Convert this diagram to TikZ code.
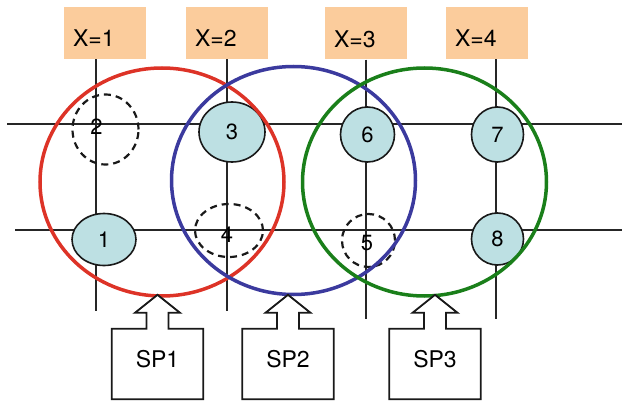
\documentclass[tikz,border=0pt]{standalone}
\usepackage{fontspec}
\setmainfont{TeX Gyre Heros}
\usetikzlibrary{shapes.geometric,calc}
\definecolor{peach}{HTML}{FBCC9C}
\definecolor{peerfill}{HTML}{BDE0E3}
\definecolor{zonered}{HTML}{DD3327}
\definecolor{zoneblue}{HTML}{3B3A9E}
\definecolor{zonegreen}{HTML}{1A7F1A}

% outline of a service box with an upward arrow on its top edge
\newcommand\calloutframe[1]{%
  \draw[callout] (#1.south west) -- (#1.north west)
    -- ($(#1.north)+(-11,0)$) -- ++(0,-16) -- ++(-11.5,0)
    -- ($(#1.north)+(0,-34)$)
    -- ($(#1.north)+(22.5,-16)$) -- ++(-11.5,0)
    -- ($(#1.north)+(11,0)$) -- (#1.north east) -- (#1.south east) -- cycle;}

\begin{document}
\begin{tikzpicture}[x=1pt,y=-1pt,
  hdr/.style={rectangle, fill=peach, inner xsep=9pt, inner ysep=0pt,
    text width=64pt, align=left, text height=40pt, text depth=12pt,
    font=\fontsize{23}{27}\selectfont},
  gridline/.style={line width=1.8pt, draw=black!85},
  peer/.style={ellipse, draw=black!90, line width=1.6pt, fill=peerfill,
    inner sep=0pt, font=\fontsize{22}{26}\selectfont},
  ghost/.style={ellipse, draw=black!90, line width=2.2pt,
    dash pattern=on 7pt off 5pt, inner sep=0pt},
  ghostlabel/.style={font=\fontsize{22}{26}\selectfont, inner sep=0pt},
  zone/.style={ellipse, line width=3.5pt, minimum width=244pt, minimum height=228pt, inner sep=0pt},
  spbox/.style={rectangle, minimum width=91pt, inner xsep=0pt, inner ysep=0pt,
    text height=38pt, text depth=32pt, font=\fontsize{23}{27}\selectfont},
  callout/.style={draw=black!90, line width=1.8pt, line join=miter, fill=white}
]
\useasboundingbox (0,0) rectangle (622,404);

% column headers
\node[hdr] (h1) at (105,33) {X=1};
\node[hdr] (h2) at (227,33) {X=2};
\node[hdr] (h3) at (366,33.5) {X=3};
\node[hdr] (h4) at (487,33) {X=4};

% grid
\coordinate (v1) at (96,311);
\coordinate (v2) at (227,311);
\coordinate (v3) at (366,319);
\coordinate (v4) at (496,319);
\coordinate (r1w) at (7,124);
\coordinate (r1e) at (622,124);
\coordinate (r2w) at (15,230);
\coordinate (r2e) at (622,230);
\draw[gridline] (h1.south -| v1) -- (v1);
\draw[gridline] (h2.south -| v2) -- (v2);
\draw[gridline] (h3.south -| v3) -- (v3);
\draw[gridline] (h4.south -| v4) -- (v4);
\draw[gridline] (r1w) -- (r1e);
\draw[gridline] (r2w) -- (r2e);

% peers
\node[peer, minimum width=64pt, minimum height=52pt] (p1) at (104,239.5) {1};
\node[peer, minimum width=66pt, minimum height=60pt] (p3) at (232,132) {3};
\node[peer, minimum width=54pt, minimum height=55pt] (p6) at (367.5,134.5) {6};
\node[peer, minimum width=52pt, minimum height=55pt] (p7) at (497.5,134.5) {7};
\node[peer, minimum width=52pt, minimum height=52pt] (p8) at (497.5,239) {8};

% absent peers
\node[ghost, minimum width=66pt, minimum height=70pt,
  label={[ghostlabel, xshift=-9pt, yshift=2.5pt]center:2}] (p2) at (105.5,129.5) {};
\node[ghost, minimum width=68pt, minimum height=53pt,
  label={[ghostlabel, xshift=-2pt, yshift=-4pt]center:4}] (p4) at (229,230.5) {};
\node[ghost, minimum width=53pt, minimum height=53pt,
  label={[ghostlabel, xshift=-1.5pt, yshift=-3pt]center:5}] (p5) at (368.5,240.5) {};

% service zones
\node[zone, draw=zonered] (z1) at (162,182) {};
\node[zone, draw=zoneblue] (z2) at (293.5,180.5) {};
\node[zone, draw=zonegreen] (z3) at (424.5,182) {};

% service providers
\node[spbox] (sp1) at (157.5,364) {};
\node[spbox] (sp2) at (288,364) {};
\node[spbox] (sp3) at (435,364) {};
\calloutframe{sp1}
\calloutframe{sp2}
\calloutframe{sp3}
\node[spbox] at (sp1) {SP1};
\node[spbox] at (sp2) {SP2};
\node[spbox] at (sp3) {SP3};
\end{tikzpicture}
\end{document}
